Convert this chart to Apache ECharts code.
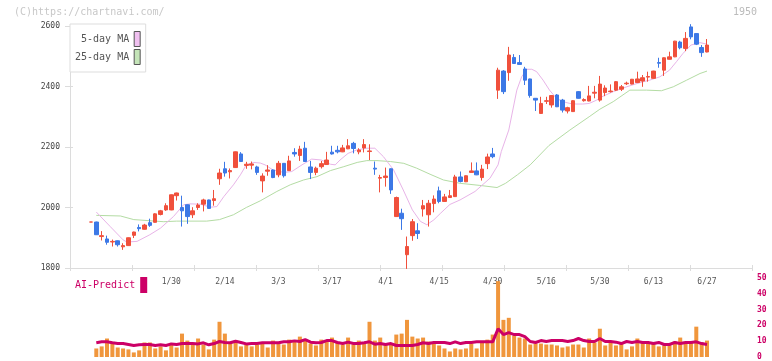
<!DOCTYPE html>
<html><head><meta charset="utf-8">
<script src="https://cdn.jsdelivr.net/npm/echarts@6/dist/echarts.min.js"></script>
<style>html,body{margin:0;padding:0;background:#fff}#c{width:772px;height:361px}</style>
</head><body><div id="c"></div><script>
// ---- data (2025, trading days) ----
const dates = ['1/8','1/9','1/10','1/14','1/15','1/16','1/17','1/20','1/21','1/22','1/23','1/24','1/27','1/28','1/29','1/30','1/31',
'2/3','2/4','2/5','2/6','2/7','2/10','2/12','2/13','2/14','2/17','2/18','2/19','2/20','2/21','2/25','2/26','2/27','2/28',
'3/3','3/4','3/5','3/6','3/7','3/10','3/11','3/12','3/13','3/14','3/17','3/18','3/19','3/21','3/24','3/25','3/26','3/27','3/28','3/31',
'4/1','4/2','4/3','4/4','4/7','4/8','4/9','4/10','4/11','4/14','4/15','4/16','4/17','4/18','4/21','4/22','4/23','4/24','4/25','4/28','4/30',
'5/1','5/2','5/7','5/8','5/9','5/12','5/13','5/14','5/15','5/16','5/19','5/20','5/21','5/22','5/23','5/26','5/27','5/28','5/29','5/30',
'6/2','6/3','6/4','6/5','6/6','6/9','6/10','6/11','6/12','6/13','6/16','6/17','6/18','6/19','6/20','6/23','6/24','6/25','6/26','6/27'];
const labelDates = ['1/30','2/14','3/3','3/17','4/1','4/15','4/30','5/16','5/30','6/13','6/27'];
const priceTicks = [1800, 2600, 200];   // min, max, step
const volumeTicks = [0, 50, 10];

const opens = [1952,
1952,1904,1896,1886,1890,1870,1874,1908,1934,1928,
1950,1951,1977,1992,1992,2039,2000,2009,1976,2000,
2011,2025,2023,2095,2128,2118,2132,2177,2139,2140,
2134,2088,2120,2124,2108,2146,2122,2182,2172,2196,
2134,2116,2135,2142,2183,2189,2184,2194,2212,2184,
2197,2185,2130,2097,2099,2128,1970,1981,1844,1907,
1923,1995,1976,2013,2055,2020,2033,2036,2101,2085,
2116,2121,2099,2145,2177,2388,2451,2446,2496,2479,
2458,2425,2361,2311,2351,2339,2372,2355,2319,2317,
2383,2353,2352,2378,2355,2380,2383,2388,2391,2409,
2408,2413,2418,2431,2427,2479,2454,2490,2498,2547,
2526,2597,2575,2529,2514];
const closes = [1952,
1910,1907,1885,1888,1877,1874,1900,1919,1930,1942,
1941,1979,1989,2006,2042,2048,1989,1970,1989,2008,
2025,1997,2029,2114,2114,2122,2184,2152,2143,2144,
2116,2104,2124,2099,2146,2105,2154,2177,2193,2152,
2116,2130,2145,2157,2177,2184,2197,2204,2195,2190,
2208,2187,2127,2099,2104,2058,2033,1963,1871,1953,
1914,2006,2014,2028,2020,2035,2039,2101,2086,2105,
2121,2108,2127,2167,2168,2454,2383,2504,2476,2473,
2421,2370,2355,2344,2353,2370,2333,2322,2330,2353,
2361,2357,2369,2381,2408,2395,2385,2416,2399,2411,
2424,2425,2429,2433,2451,2477,2495,2498,2550,2528,
2559,2564,2540,2512,2537];
const lows = [1952,
1909,1891,1877,1871,1871,1860,1873,1899,1921,1927,
1936,1950,1974,1989,1991,2023,1937,1946,1965,1992,
1987,1996,2006,2075,2102,2096,2131,2151,2128,2126,
2108,2050,2105,2097,2100,2099,2121,2168,2154,2151,
2094,2107,2129,2141,2175,2179,2183,2193,2179,2176,
2182,2157,2108,2050,2069,2045,1969,1926,1797,1890,
1896,1970,1937,1984,2014,2019,2032,2035,2083,2084,
2115,2107,2089,2127,2163,2359,2375,2419,2475,2472,
2405,2363,2319,2310,2342,2330,2332,2314,2311,2316,
2360,2350,2351,2361,2350,2368,2380,2385,2385,2405,
2407,2412,2399,2416,2426,2462,2435,2489,2497,2523,
2517,2556,2537,2498,2513];
const highs = [1952,
1953,1922,1907,1894,1891,1882,1901,1920,1944,1946,
1963,1981,1992,2014,2043,2049,2039,2010,2001,2014,
2029,2026,2058,2128,2151,2129,2185,2183,2151,2152,
2138,2113,2140,2126,2154,2147,2171,2196,2204,2217,
2154,2135,2154,2184,2204,2204,2207,2226,2217,2196,
2226,2209,2152,2108,2132,2129,2036,1996,1904,1962,
1948,2025,2025,2040,2069,2045,2058,2108,2119,2106,
2149,2149,2141,2178,2197,2462,2454,2531,2507,2504,
2465,2426,2362,2366,2366,2371,2375,2359,2333,2355,
2385,2361,2402,2402,2435,2404,2407,2418,2405,2416,
2425,2449,2438,2449,2452,2495,2496,2515,2551,2551,
2580,2606,2576,2537,2557];
const volumes = [null,
5.4,6.7,11.7,9.6,6.0,5.4,4.8,2.9,4.2,9.2,
9.2,5.4,6.7,4.2,7.9,6.0,14.8,10.4,8.5,11.7,
7.9,4.8,11.0,22.3,14.8,9.2,10.4,6.7,7.9,6.7,
7.9,9.2,6.0,10.4,9.2,7.9,11.0,10.4,12.9,11.0,
8.5,7.3,11.0,10.4,12.3,9.2,7.9,12.3,7.9,10.4,
8.5,22.3,10.4,12.3,7.9,8.5,14.2,14.8,23.5,12.9,
11.7,12.3,9.8,8.5,7.3,5.4,3.5,5.4,4.8,5.4,
8.5,5.4,9.2,11.0,14.2,48.0,23.5,24.8,13.5,12.3,
11.7,7.9,8.5,8.5,7.9,7.9,7.3,6.0,6.7,7.9,
7.9,6.0,11.7,9.2,17.9,7.3,9.2,7.3,9.2,4.8,
6.7,11.7,9.2,9.2,9.2,6.7,7.3,7.3,9.8,12.3,
8.5,9.2,19.2,9.2,10.4];
const aiPredict = [null,
9.0,9.6,9.6,9.0,8.5,8.5,7.9,7.3,7.7,7.9,
7.9,7.3,7.7,7.3,8.3,7.9,8.5,8.5,8.5,8.3,
9.0,7.7,8.5,9.8,9.2,9.0,10.0,9.2,8.3,8.5,
8.5,9.0,9.0,9.0,9.0,9.6,9.6,10.2,9.8,11.0,
9.4,9.0,9.2,10.4,10.4,9.2,8.5,9.4,8.5,8.5,
9.0,9.6,8.1,8.5,7.9,8.5,7.3,7.3,7.3,7.3,
7.9,9.0,8.5,9.2,9.2,9.2,8.5,9.6,8.5,9.2,
9.2,9.6,9.6,9.6,9.6,17.9,14.2,15.4,14.2,14.2,
12.9,9.8,9.2,10.4,9.8,10.4,10.4,10.4,9.8,10.4,
11.7,10.4,9.8,9.8,11.7,9.8,9.8,9.4,8.5,9.8,
9.2,9.8,9.2,9.2,8.5,9.2,7.9,7.9,9.2,8.5,
9.2,9.2,9.6,8.5,7.9];
// moving averages: [position in dates, value]
const ma5 = [[1,1985],[3.6,1937],[6,1893],[6.7,1886],[8.6,1888],[11,1910],[13,1932],[15.4,1970],[17.3,2009],[18.5,2012],[20.4,2011],[22.3,2001],[23.5,2003],[24.8,2036],[26.6,2075],[27.9,2108],[29,2141],[30.4,2149],[31.6,2147],[32.5,2141],[34,2124],[36,2116],[37.5,2119],[39.4,2141],[41.2,2160],[43,2157],[44.7,2143],[45.6,2141],[46.5,2157],[48,2179],[49.6,2190],[51.5,2196],[53,2196],[54.6,2168],[56.5,2124],[58.3,2058],[60,1992],[61.5,1954],[62.7,1943],[64,1959],[65.2,1980],[67,2010],[68.9,2025],[71.7,2053],[74.5,2097],[76,2141],[76.6,2185],[78,2256],[79.5,2388],[80.4,2432],[81.4,2457],[82.3,2457],[83.2,2449],[84.4,2421],[85.6,2388],[86.9,2361],[88.1,2350],[89.4,2344],[90.6,2342],[91.8,2342],[93,2344],[94.4,2355],[95.6,2368],[97.5,2383],[100,2399],[102.5,2413],[104.3,2421],[106.2,2432],[108,2454],[109.3,2482],[110.5,2509],[112,2537],[113.7,2545],[115,2540]];
const ma25 = [[1,1974],[5.5,1972],[8,1960],[13.6,1953],[16,1955],[21.6,1955],[24,1960],[26.6,1976],[29,2000],[31.6,2022],[34.7,2053],[37.2,2075],[39.7,2091],[42.2,2102],[44.7,2122],[47.2,2135],[49.7,2149],[51.5,2155],[53.4,2155],[55.9,2152],[58.4,2146],[60.8,2130],[63.3,2110],[65.8,2091],[68.9,2080],[72.6,2073],[75.8,2066],[77.4,2080],[79.6,2108],[82,2141],[85.5,2205],[89.4,2256],[93,2300],[95,2325],[97.5,2350],[100.6,2388],[103.7,2388],[106.5,2386],[108.7,2399],[111.2,2421],[113.7,2443],[115,2451]];

// ---- chart ----
const FONT = 'DejaVu Sans Mono';
const UP = '#f0503c', DOWN = '#3c78e6', AXC = '#dcdcdc';
const X_MIN = -3.91, X_MAX = 123.4;
const candleData = dates.map((d, i) => [i, opens[i], closes[i], lows[i], highs[i]]);
const volData = volumes.map((v, i) => [i, v]);
const aiData = aiPredict.map((v, i) => [i, v]);
const labelIdx = labelDates.map(d => dates.indexOf(d));

const chart = echarts.init(document.getElementById('c'));
chart.setOption({
  animation: false,
  backgroundColor: '#fff',
  textStyle: {fontFamily: FONT},
  title: [
    {text: '(C)https://chartnavi.com/', left: 14, top: 7, padding: 0,
     textStyle: {fontFamily: FONT, fontSize: 10, fontWeight: 'normal', color: '#c8c8c8'}},
    {text: '1950', right: 15, top: 7, padding: 0,
     textStyle: {fontFamily: FONT, fontSize: 10, fontWeight: 'normal', color: '#bbbbbb'}}
  ],
  legend: [
    {orient: 'vertical', left: 70, top: 24, padding: [7, 5, 7, 5], itemWidth: 6, itemHeight: 15, itemGap: 2,
     align: 'right', backgroundColor: '#fff', borderColor: '#dddddd', borderWidth: 1, selectedMode: false,
     textStyle: {fontFamily: FONT, fontSize: 10, color: '#555'},
     data: [
       {name: '5-day MA', icon: 'rect', itemStyle: {color: '#f0c0f0', borderColor: '#555', borderWidth: 1}},
       {name: '25-day MA', icon: 'rect', itemStyle: {color: '#c4e4b8', borderColor: '#555', borderWidth: 1}}
     ]},
    {left: 75, top: 277, padding: 0, itemWidth: 7, itemHeight: 16, align: 'right', selectedMode: false,
     textStyle: {fontFamily: FONT, fontSize: 10, color: '#cc0066'},
     data: [{name: 'AI-Predict', icon: 'rect', itemStyle: {color: '#cc0066'}}]}
  ],
  grid: [
    {left: 70, right: 20, top: 26, height: 242},
    {left: 70, right: 20, top: 278, height: 80}
  ],
  xAxis: [
    {type: 'value', gridIndex: 0, min: X_MIN, max: X_MAX, position: 'bottom',
     axisLine: {show: false}, axisTick: {show: false}, splitLine: {show: false},
     axisLabel: {customValues: labelIdx, formatter: v => dates[v], fontFamily: FONT, fontSize: 8, color: '#555', margin: 10}},
    {type: 'value', gridIndex: 0, min: 0, max: 11, interval: 1, position: 'bottom',
     axisLine: {show: true, onZero: false, lineStyle: {color: AXC}},
     axisTick: {show: true, length: 3, lineStyle: {color: AXC}},
     axisLabel: {show: false}, splitLine: {show: false}},
    {type: 'value', gridIndex: 0, min: 0, max: 11, interval: 1, position: 'bottom',
     axisLine: {show: false, onZero: false},
     axisTick: {show: true, inside: true, length: 3, lineStyle: {color: AXC}},
     axisLabel: {show: false}, splitLine: {show: false}},
    {type: 'value', gridIndex: 1, min: X_MIN, max: X_MAX, show: false, splitLine: {show: false}}
  ],
  yAxis: [
    {type: 'value', gridIndex: 0, position: 'left', min: priceTicks[0], max: priceTicks[1], interval: priceTicks[2],
     axisLine: {show: true, onZero: false, lineStyle: {color: AXC}},
     axisTick: {show: true, length: 5, lineStyle: {color: AXC}},
     axisLabel: {fontFamily: FONT, fontSize: 8, color: '#444', margin: 10, formatter: v => String(v)}, splitLine: {show: false}},
    {type: 'value', gridIndex: 0, position: 'left', min: priceTicks[0], max: priceTicks[1], interval: priceTicks[2],
     axisLine: {show: false, onZero: false},
     axisTick: {show: true, inside: true, length: 3, lineStyle: {color: AXC}},
     axisLabel: {show: false}, splitLine: {show: false}},
    {type: 'value', gridIndex: 1, position: 'right', min: volumeTicks[0], max: volumeTicks[1], interval: volumeTicks[2],
     axisLine: {show: false, onZero: false}, axisTick: {show: false}, splitLine: {show: false},
     axisLabel: {fontFamily: FONT, fontSize: 8, fontWeight: 'bold', color: '#cc0066', margin: 5, formatter: v => String(v)}}
  ],
  series: [
    {type: 'line', name: '25-day MA', xAxisIndex: 0, yAxisIndex: 0, data: ma25, symbol: 'none',
     lineStyle: {width: 1, color: '#b4dca4'}, itemStyle: {color: '#b4dca4'}, z: 2},
    {type: 'line', name: '5-day MA', xAxisIndex: 0, yAxisIndex: 0, data: ma5, symbol: 'none',
     lineStyle: {width: 1, color: '#e8b4e8'}, itemStyle: {color: '#e8b4e8'}, z: 2},
    {type: 'candlestick', name: 'Price', xAxisIndex: 0, yAxisIndex: 0, data: candleData, barWidth: 4,
     itemStyle: {color: UP, color0: DOWN, borderColor: UP, borderColor0: DOWN, borderWidth: 1}, z: 3},
    {type: 'bar', name: 'Volume', xAxisIndex: 3, yAxisIndex: 2, data: volData, barWidth: 4,
     itemStyle: {color: '#f0963c'}, z: 2},
    {type: 'line', name: 'AI-Predict', xAxisIndex: 3, yAxisIndex: 2, data: aiData, symbol: 'none',
     lineStyle: {width: 3, color: '#cc0066'}, itemStyle: {color: '#cc0066'}, z: 3}
  ]
});
</script></body></html>
